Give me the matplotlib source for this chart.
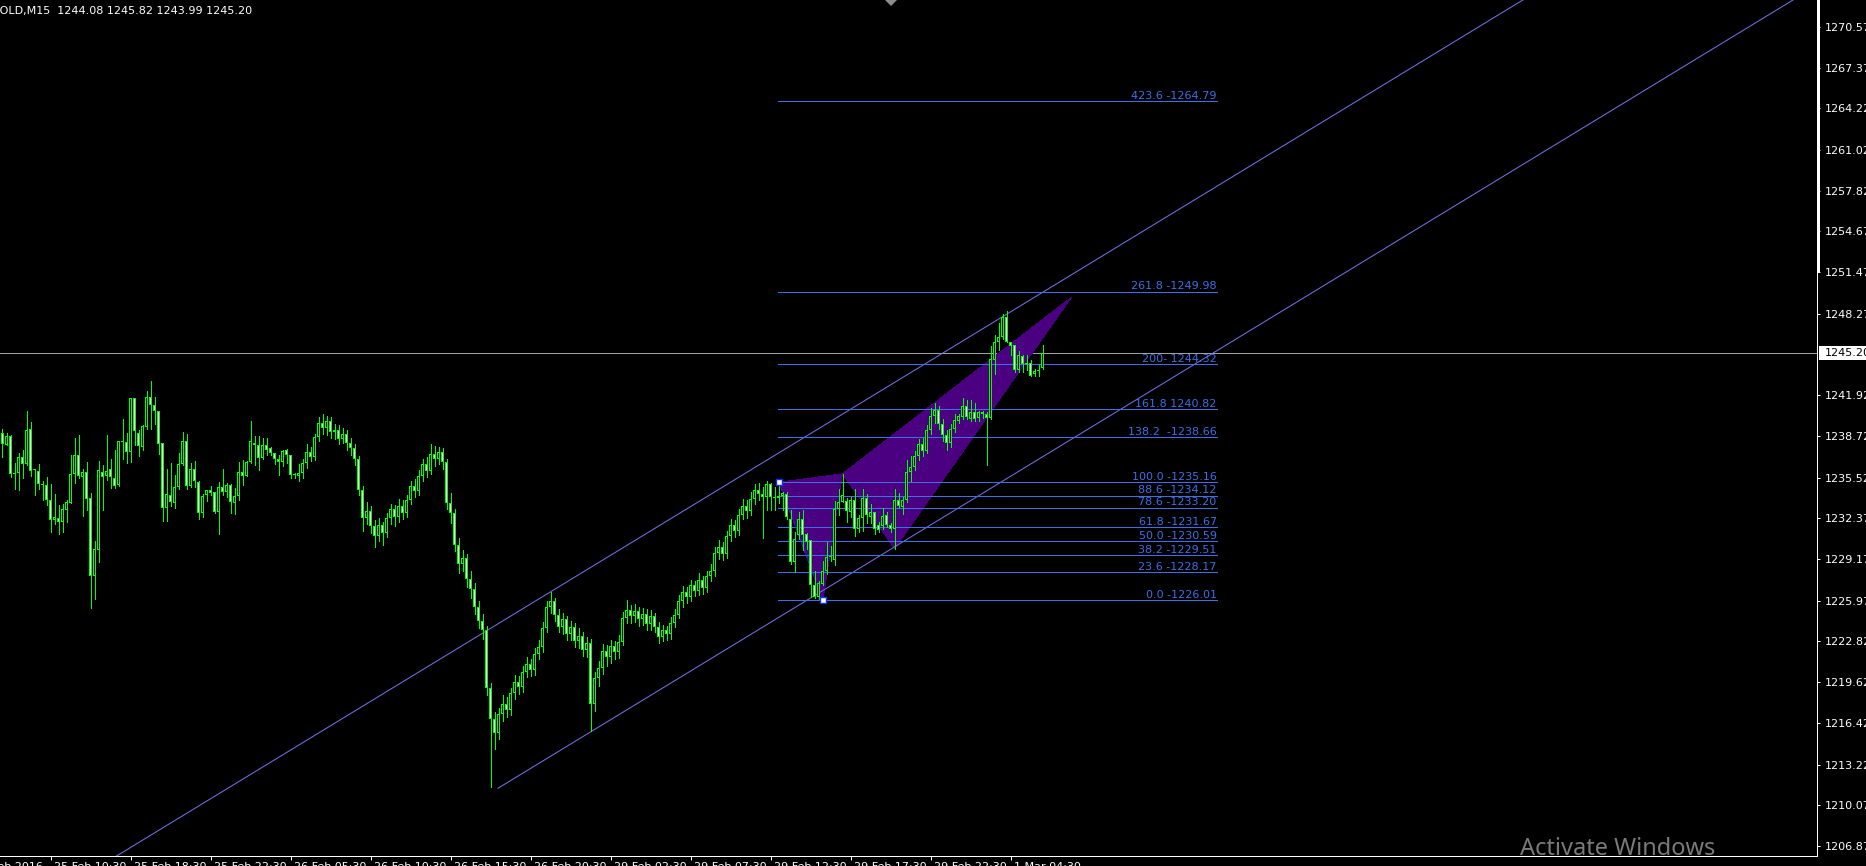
import matplotlib
matplotlib.use("Agg")
import matplotlib.pyplot as plt
from matplotlib.patches import Rectangle, Polygon
from matplotlib.collections import PatchCollection
from matplotlib.lines import Line2D

# ---- OHLC data, GOLD M15 ----
opens = [
    1239.03, 1238.09, 1238.72, 1235.79, 1235.90, 1237.15, 1236.55, 1239.27, 1236.10, 1236.05,
    1234.98, 1234.95, 1233.78, 1232.21, 1232.37, 1232.11, 1232.97, 1233.57, 1235.82, 1237.31,
    1235.58, 1235.95, 1233.94, 1227.90, 1229.89, 1235.97, 1235.63, 1236.21, 1235.50, 1234.93,
    1238.35, 1238.32, 1237.52, 1241.69, 1239.03, 1237.93, 1239.42, 1241.77, 1241.20, 1240.68,
    1238.25, 1233.15, 1234.15, 1233.54, 1234.77, 1236.55, 1238.35, 1234.85, 1236.16, 1235.22,
    1232.76, 1234.20, 1234.56, 1234.41, 1232.84, 1234.80, 1234.43, 1234.95, 1233.54, 1234.07,
    1235.97, 1235.63, 1236.76, 1238.19, 1238.09, 1237.02, 1238.09, 1237.80, 1237.46, 1236.99,
    1236.73, 1237.65, 1237.31, 1235.71, 1235.66, 1235.90, 1236.65, 1237.55, 1237.15, 1238.65,
    1239.75, 1239.35, 1239.95, 1239.05, 1239.25, 1238.55, 1238.95, 1238.25, 1237.85, 1236.95,
    1234.55, 1232.35, 1232.95, 1231.75, 1230.95, 1231.85, 1231.25, 1232.35, 1233.05, 1232.45,
    1233.35, 1232.75, 1233.75, 1234.85, 1234.45, 1235.65, 1236.55, 1236.05, 1237.35, 1236.95,
    1237.55, 1236.75, 1233.55, 1232.75, 1230.25, 1228.85, 1229.25, 1227.65, 1226.85, 1225.45,
    1224.35, 1223.65, 1219.15, 1216.75, 1215.65, 1217.15, 1217.95, 1217.45, 1218.75, 1219.65,
    1219.25, 1220.45, 1221.05, 1220.55, 1221.85, 1222.35, 1223.85, 1225.45, 1225.95, 1224.85,
    1223.95, 1224.55, 1223.35, 1223.95, 1222.85, 1223.25, 1222.15, 1222.65, 1217.95, 1219.95,
    1220.75, 1222.05, 1221.55, 1222.45, 1221.95, 1222.75, 1224.65, 1225.25, 1224.75, 1225.15,
    1224.55, 1224.95, 1224.15, 1224.75, 1223.95, 1223.15, 1223.65, 1223.35, 1224.25, 1224.85,
    1225.95, 1226.65, 1226.25, 1227.15, 1226.75, 1227.55, 1226.95, 1227.85, 1228.25, 1229.65,
    1230.15, 1229.55, 1230.95, 1231.85, 1231.35, 1232.65, 1233.35, 1232.95, 1233.85, 1234.55,
    1234.23, 1233.99, 1235.01, 1233.99, 1233.92, 1234.10, 1234.25, 1232.30, 1228.95, 1231.04,
    1232.27, 1231.12, 1230.70, 1227.18, 1226.21, 1227.25, 1228.30, 1229.34, 1229.14, 1233.05,
    1233.65, 1233.71, 1232.87, 1233.79, 1231.56, 1232.40, 1233.92, 1232.48, 1232.82, 1231.83,
    1231.75, 1232.61, 1231.83, 1231.51, 1233.79, 1233.26, 1233.79, 1235.93, 1236.35, 1237.20,
    1238.10, 1237.60, 1239.20, 1240.30, 1240.80, 1239.70, 1238.80, 1238.20, 1239.30, 1239.95,
    1240.21, 1241.12, 1240.08, 1240.60, 1240.13, 1240.60, 1240.47, 1240.16, 1244.70, 1246.09,
    1246.43, 1247.99, 1246.03, 1245.83, 1243.92, 1244.96, 1244.39, 1244.44, 1243.61, 1243.81,
    1244.08,
]
highs = [
    1239.29, 1239.03, 1238.82, 1236.68, 1237.41, 1237.65, 1240.68, 1239.84, 1236.21, 1236.55,
    1235.29, 1235.61, 1235.06, 1234.28, 1233.39, 1233.49, 1233.75, 1237.25, 1238.64, 1238.82,
    1236.23, 1236.71, 1234.35, 1230.59, 1236.78, 1236.52, 1238.82, 1236.94, 1237.65, 1238.40,
    1240.08, 1239.03, 1241.69, 1241.69, 1239.21, 1239.60, 1242.24, 1243.03, 1241.77, 1240.68,
    1238.25, 1236.16, 1236.63, 1235.69, 1237.41, 1239.06, 1238.90, 1236.63, 1236.78, 1235.27,
    1234.28, 1234.59, 1234.90, 1234.43, 1235.22, 1236.16, 1235.11, 1235.01, 1234.75, 1236.71,
    1236.86, 1236.84, 1239.89, 1238.72, 1238.72, 1238.64, 1238.64, 1237.93, 1237.46, 1237.31,
    1237.67, 1237.72, 1237.31, 1235.90, 1236.55, 1237.00, 1238.10, 1237.90, 1238.90, 1240.20,
    1240.50, 1240.30, 1240.20, 1239.70, 1239.60, 1239.40, 1239.20, 1238.60, 1238.10, 1237.20,
    1234.90, 1233.60, 1233.30, 1232.20, 1232.40, 1232.10, 1232.80, 1233.50, 1233.40, 1233.90,
    1233.80, 1234.20, 1235.30, 1235.40, 1236.10, 1237.00, 1237.10, 1238.10, 1238.00, 1237.90,
    1237.80, 1237.00, 1234.30, 1233.10, 1230.80, 1229.90, 1229.60, 1228.30, 1227.30, 1225.90,
    1224.90, 1224.00, 1219.60, 1217.30, 1217.60, 1218.60, 1218.50, 1219.20, 1220.20, 1220.10,
    1220.90, 1221.60, 1221.40, 1222.30, 1222.90, 1224.30, 1225.90, 1226.60, 1226.20, 1225.30,
    1225.00, 1224.80, 1224.40, 1224.20, 1223.80, 1223.50, 1223.10, 1223.00, 1220.40, 1221.30,
    1222.60, 1222.50, 1222.90, 1222.80, 1223.30, 1225.10, 1226.00, 1225.60, 1225.70, 1225.50,
    1225.40, 1225.30, 1225.20, 1225.00, 1224.30, 1224.10, 1224.00, 1224.70, 1225.30, 1226.40,
    1227.10, 1227.00, 1227.60, 1227.50, 1228.10, 1227.90, 1228.30, 1228.80, 1230.10, 1230.70,
    1230.50, 1231.40, 1232.30, 1232.20, 1233.10, 1233.90, 1233.80, 1234.40, 1235.00, 1235.10,
    1234.78, 1235.27, 1235.09, 1234.78, 1235.17, 1234.39, 1234.44, 1233.00, 1231.30, 1232.82,
    1233.00, 1231.23, 1230.70, 1228.30, 1227.46, 1229.08, 1230.52, 1230.18, 1233.71, 1234.65,
    1235.82, 1233.92, 1234.05, 1234.62, 1232.61, 1234.62, 1234.23, 1233.47, 1232.87, 1232.09,
    1233.13, 1232.87, 1231.96, 1234.62, 1234.31, 1234.05, 1236.92, 1237.20, 1237.60, 1238.50,
    1238.60, 1239.60, 1240.90, 1241.30, 1241.10, 1240.10, 1239.20, 1239.70, 1240.50, 1240.47,
    1241.70, 1241.52, 1241.52, 1241.36, 1240.73, 1240.73, 1240.60, 1245.75, 1246.61, 1247.52,
    1248.26, 1248.44, 1246.09, 1245.83, 1245.36, 1245.04, 1245.04, 1244.65, 1244.00, 1244.26,
    1245.82,
]
lows = [
    1237.15, 1238.06, 1235.56, 1234.67, 1234.59, 1235.48, 1236.47, 1235.63, 1234.20, 1234.67,
    1233.81, 1233.36, 1231.32, 1231.95, 1231.17, 1231.30, 1232.11, 1233.52, 1235.09, 1235.48,
    1232.58, 1233.02, 1225.37, 1226.07, 1228.97, 1232.97, 1235.37, 1234.69, 1234.69, 1234.90,
    1236.94, 1236.65, 1236.71, 1238.04, 1237.18, 1237.65, 1239.29, 1239.32, 1239.68, 1237.36,
    1232.19, 1232.19, 1233.28, 1233.15, 1234.62, 1236.50, 1234.62, 1234.82, 1234.82, 1232.34,
    1232.47, 1233.67, 1234.20, 1232.79, 1231.17, 1234.20, 1233.99, 1232.81, 1232.73, 1233.75,
    1234.93, 1235.63, 1236.68, 1236.50, 1236.10, 1236.97, 1237.28, 1237.28, 1236.55, 1235.69,
    1236.39, 1236.65, 1235.53, 1235.53, 1235.29, 1235.50, 1236.30, 1236.80, 1236.90, 1238.40,
    1238.90, 1238.80, 1238.60, 1238.50, 1238.10, 1238.20, 1237.70, 1237.30, 1236.50, 1234.20,
    1231.40, 1231.90, 1231.20, 1230.10, 1230.60, 1230.30, 1230.90, 1231.90, 1231.80, 1232.10,
    1232.30, 1232.50, 1233.50, 1234.00, 1234.20, 1235.30, 1235.60, 1235.80, 1236.40, 1236.60,
    1236.20, 1233.10, 1232.00, 1229.80, 1228.10, 1228.30, 1227.00, 1226.20, 1224.90, 1223.80,
    1223.00, 1218.60, 1211.50, 1214.40, 1215.20, 1216.60, 1216.90, 1217.10, 1218.30, 1218.70,
    1218.90, 1220.00, 1220.10, 1220.20, 1221.40, 1222.00, 1223.50, 1225.00, 1224.40, 1223.50,
    1223.40, 1222.90, 1222.90, 1222.40, 1222.30, 1221.70, 1221.60, 1215.80, 1217.40, 1219.30,
    1220.30, 1220.90, 1221.10, 1221.40, 1221.50, 1222.50, 1224.20, 1224.20, 1224.30, 1224.00,
    1224.10, 1223.70, 1223.70, 1223.50, 1222.70, 1222.80, 1222.90, 1223.00, 1223.90, 1224.60,
    1225.50, 1225.80, 1225.90, 1226.30, 1226.40, 1226.50, 1226.60, 1227.50, 1227.90, 1229.20,
    1229.10, 1229.30, 1230.60, 1230.90, 1231.10, 1232.30, 1232.40, 1232.60, 1233.50, 1233.80,
    1230.83, 1233.00, 1233.00, 1233.00, 1233.52, 1233.00, 1232.27, 1228.82, 1228.22, 1230.78,
    1229.87, 1230.00, 1226.21, 1226.16, 1226.13, 1227.20, 1228.04, 1229.08, 1228.77, 1232.61,
    1233.65, 1232.09, 1232.48, 1230.96, 1231.30, 1231.38, 1232.03, 1231.96, 1231.12, 1231.30,
    1231.56, 1231.69, 1231.30, 1230.00, 1233.13, 1232.69, 1233.65, 1235.30, 1236.10, 1236.90,
    1237.20, 1237.40, 1238.90, 1239.80, 1239.30, 1238.40, 1237.70, 1237.90, 1239.10, 1239.78,
    1240.08, 1240.08, 1239.95, 1239.95, 1239.95, 1240.18, 1236.50, 1240.08, 1243.61, 1245.43,
    1246.30, 1246.03, 1245.04, 1243.74, 1243.74, 1243.74, 1243.92, 1243.40, 1243.40, 1243.40,
    1243.99,
]
closes = [
    1238.17, 1238.72, 1235.79, 1235.79, 1237.15, 1236.60, 1239.19, 1236.05, 1236.10, 1235.03,
    1234.98, 1233.78, 1232.21, 1232.45, 1232.11, 1233.07, 1233.62, 1235.82, 1237.31, 1235.66,
    1235.97, 1233.86, 1227.90, 1229.94, 1236.08, 1235.58, 1236.05, 1235.58, 1234.90, 1238.40,
    1238.30, 1237.52, 1241.69, 1239.16, 1238.01, 1239.50, 1241.77, 1241.20, 1240.68, 1238.17,
    1233.15, 1234.25, 1233.60, 1234.82, 1236.60, 1238.35, 1234.85, 1236.16, 1235.24, 1232.76,
    1234.12, 1234.59, 1234.30, 1232.84, 1234.80, 1234.43, 1234.98, 1233.62, 1234.12, 1235.97,
    1235.63, 1236.71, 1238.40, 1238.06, 1237.04, 1238.09, 1237.70, 1237.46, 1236.97, 1236.73,
    1237.62, 1237.31, 1235.71, 1235.71, 1235.90, 1236.65, 1237.55, 1237.15, 1238.65, 1239.75,
    1239.35, 1239.95, 1239.05, 1239.25, 1238.55, 1238.95, 1238.25, 1237.85, 1236.95, 1234.55,
    1232.35, 1232.95, 1231.75, 1230.95, 1231.85, 1231.25, 1232.35, 1233.05, 1232.45, 1233.35,
    1232.75, 1233.75, 1234.85, 1234.45, 1235.65, 1236.55, 1236.05, 1237.35, 1236.95, 1237.55,
    1236.75, 1233.55, 1232.75, 1230.25, 1228.85, 1229.25, 1227.65, 1226.85, 1225.45, 1224.35,
    1223.65, 1219.15, 1216.75, 1215.65, 1217.15, 1217.95, 1217.45, 1218.75, 1219.65, 1219.25,
    1220.45, 1221.05, 1220.55, 1221.85, 1222.35, 1223.85, 1225.45, 1225.95, 1224.85, 1223.95,
    1224.55, 1223.35, 1223.95, 1222.85, 1223.25, 1222.15, 1222.65, 1217.95, 1219.95, 1220.75,
    1222.05, 1221.55, 1222.45, 1221.95, 1222.75, 1224.65, 1225.25, 1224.75, 1225.15, 1224.55,
    1224.95, 1224.15, 1224.75, 1223.95, 1223.15, 1223.65, 1223.35, 1224.25, 1224.85, 1225.95,
    1226.65, 1226.25, 1227.15, 1226.75, 1227.55, 1226.95, 1227.85, 1228.25, 1229.65, 1230.15,
    1229.55, 1230.95, 1231.85, 1231.35, 1232.65, 1233.35, 1232.95, 1233.85, 1234.55, 1234.25,
    1233.99, 1235.01, 1233.99, 1233.92, 1234.10, 1234.31, 1232.43, 1228.95, 1230.78, 1232.27,
    1231.04, 1230.52, 1227.20, 1226.21, 1227.33, 1228.30, 1229.34, 1229.42, 1233.05, 1233.65,
    1234.18, 1232.92, 1233.79, 1231.56, 1232.40, 1233.92, 1232.61, 1232.87, 1231.56, 1231.43,
    1232.53, 1231.83, 1231.56, 1233.79, 1233.34, 1233.79, 1235.93, 1236.35, 1237.20, 1238.10,
    1237.60, 1239.20, 1240.30, 1240.80, 1239.70, 1238.80, 1238.20, 1239.30, 1240.00, 1240.34,
    1241.12, 1240.21, 1240.60, 1240.08, 1240.65, 1240.47, 1240.16, 1244.78, 1246.03, 1246.43,
    1247.99, 1246.09, 1245.77, 1243.92, 1245.04, 1244.39, 1244.39, 1243.42, 1243.81, 1243.92,
    1245.20,
]

# fibonacci retracement / expansion
fib_prices = [1226.01, 1228.17, 1229.51, 1230.59, 1231.67, 1233.20, 1234.12, 1235.16,
              1238.66, 1240.82, 1244.32, 1249.98, 1264.79]
fib_labels = ["0.0 -1226.01", "23.6 -1228.17", "38.2 -1229.51", "50.0 -1230.59",
              "61.8 -1231.67", "78.6 -1233.20", "88.6 -1234.12", "100.0 -1235.16",
              "138.2  -1238.66", "161.8 1240.82", "200- 1244.32", "261.8 -1249.98",
              "423.6 -1264.79"]
fib_anchor_bars = [194.1, 205.1]
fib_anchor_prices = [1235.16, 1226.01]
fib_bar_range = [193.9, 303.55]

# harmonic pattern triangles (bar, price)
tri1 = [(194.1, 1235.16), (205.1, 1226.01), (210.0, 1235.82)]
tri2 = [(210.0, 1235.82), (223.0, 1230.00), (267.2, 1249.53)]

# equidistant channel
chan_lower = [(123.85, 1211.38), (460.0, 1274.98)]
chan_upper = [(20.0, 1204.51), (460.0, 1287.76)]

last_price = 1245.20
ytick_vals = [1270.57, 1267.37, 1264.22, 1261.02, 1257.82, 1254.67, 1251.47, 1248.27,
              1241.92, 1238.72, 1235.52, 1232.37, 1229.17, 1225.97, 1222.82, 1219.62,
              1216.42, 1213.22, 1210.07, 1206.87]
xtick_bars = [-8, 12, 32, 52, 72, 92, 112, 132, 152, 172, 192, 212, 232, 252]
xtick_labels = ["25 Feb 2016", "25 Feb 10:30", "25 Feb 18:30", "25 Feb 22:30", "26 Feb 05:30",
                "26 Feb 10:30", "26 Feb 15:30", "26 Feb 20:30", "29 Feb 02:30", "29 Feb 07:30",
                "29 Feb 12:30", "29 Feb 17:30", "29 Feb 22:30", "1 Mar 04:30"]

# ---- figure ----
W, H = 1866, 866
AX_R, AX_B = 1817, 856
LIME = "#00ff00"
FIB = "#3d6fe6"
CHAN = "#7474ec"
PX = 72 / 100          # one pixel in points
PP = 1 / 12.868        # one pixel in price units

fig = plt.figure(figsize=(W / 100, H / 100), dpi=100, facecolor="black")
ax = fig.add_axes([0, 1 - AX_B / H, AX_R / W, AX_B / H])
ax.set_facecolor("black")
ax.set_xlim(-0.625, 453.625)
ax.set_ylim(1206.12, 1272.64)

for s in ["top", "left"]:
    ax.spines[s].set_visible(False)
for s in ["right", "bottom"]:
    ax.spines[s].set_color("white")
    ax.spines[s].set_linewidth(PX)
    ax.spines[s].set_antialiased(False)

# current price line
ax.axhline(last_price, color="#a0a0a0", lw=PX, antialiased=False, zorder=1)

# purple pattern
for tri in (tri1, tri2):
    ax.add_patch(Polygon(tri, closed=True, facecolor="#4b0082", edgecolor="none",
                         antialiased=False, zorder=2))

# channel
for ln in (chan_lower, chan_upper):
    ax.plot([ln[0][0], ln[1][0]], [ln[0][1], ln[1][1]], color=CHAN, lw=PX, zorder=3)

# fibonacci levels
for p, lab in zip(fib_prices, fib_labels):
    ax.plot(fib_bar_range, [p, p], color=FIB, lw=PX, antialiased=False, zorder=3)
    ax.text(fib_bar_range[1], p + 2.5 * PP, lab, color=FIB, fontsize=8,
            ha="right", va="baseline", zorder=6)
ax.plot(fib_anchor_bars, fib_anchor_prices, color="#1030ff", lw=PX, ls=(0, (3, 3)), zorder=4)

# candles
idx = list(range(len(closes)))
ax.vlines(idx, lows, highs, color=LIME, lw=PX, antialiased=False, zorder=4)
outer, inner_w, inner_b = [], [], []
for i, (o, c) in enumerate(zip(opens, closes)):
    top, bot = max(o, c), min(o, c)
    hgt = max(top - bot, PP)
    outer.append(Rectangle((i - 0.375, bot), 0.75, hgt))
    if top - bot > 2.5 * PP:
        r = Rectangle((i - 0.125, bot + PP), 0.25, top - bot - 2 * PP)
        (inner_w if c < o else inner_b).append(r)
ax.add_collection(PatchCollection(outer, facecolor=LIME, edgecolor="none",
                                  antialiased=False, zorder=5))
ax.add_collection(PatchCollection(inner_w, facecolor="white", edgecolor="none",
                                  antialiased=False, zorder=5.5))
ax.add_collection(PatchCollection(inner_b, facecolor="black", edgecolor="none",
                                  antialiased=False, zorder=5.5))

# fib anchor markers
ax.plot(fib_anchor_bars, fib_anchor_prices, ls="none", marker="s", ms=4, mfc="white",
        mec="#1030ff", mew=1, zorder=7)

# right price scale
ax.yaxis.tick_right()
ax.set_yticks(ytick_vals)
ax.set_yticklabels([f"{v:.2f}" for v in ytick_vals])
ax.tick_params(axis="y", colors="white", labelsize=8, length=3 * PX, width=PX, pad=5 * PX)
ax.tick_params(axis="x", colors="white", length=4 * PX, width=PX, labelbottom=False)
ax.set_xticks(xtick_bars[1:])

# time labels (mostly cut off by the window edge)
for b, lab in zip(xtick_bars, xtick_labels):
    xpx = 2.5 + 4 * b + 3
    fig.text(xpx / W, 1 - 862 / H, lab, color="white", fontsize=8, ha="left", va="top")

# last price box on the scale
ytr = ax.get_yaxis_transform()
ax.add_patch(Rectangle((1819 / AX_R, last_price - 7 * PP), 60 / AX_R, 14 * PP,
                       transform=ytr, facecolor="white", edgecolor="none",
                       clip_on=False, zorder=8))
ax.text(1825 / AX_R, last_price, f"{last_price:.2f}", transform=ytr, color="black",
        fontsize=8, ha="left", va="center", clip_on=False, zorder=9)

# thick window edge at top of scale
fig.add_artist(Line2D([1817.5 / W, 1817.5 / W], [1, 1 - 270 / H], color="white",
                      lw=3 * PX, transform=fig.transFigure))

# chart shift marker
fig.add_artist(Polygon([(885 / W, 1), (897 / W, 1), (891 / W, 1 - 6 / H)], closed=True,
                       facecolor="#8c8c8c", edgecolor="none", transform=fig.transFigure))

# title
fig.text(-9 / W, 1 - 14 / H, "GOLD,M15  1244.08 1245.82 1243.99 1245.20",
         color="white", fontsize=8, ha="left", va="baseline")

# watermark
fig.text(1520 / W, 1 - 855 / H, "Activate Windows", color="#7a7a7a", fontsize=17,
         family="Noto Sans", ha="left", va="baseline")

fig.savefig("out.png", dpi=100, facecolor="black")
